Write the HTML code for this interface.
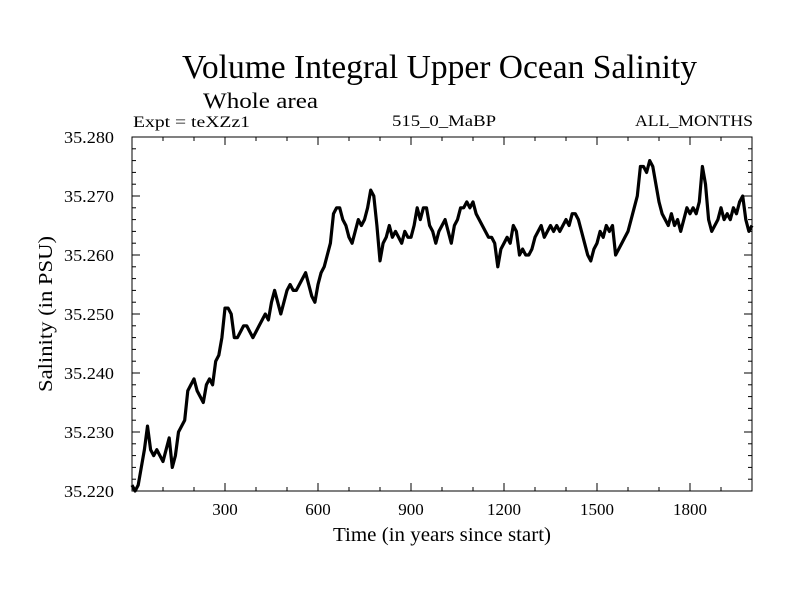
<!DOCTYPE html>
<html><head><meta charset="utf-8"><style>
html,body{margin:0;padding:0;background:#fff}
svg{display:block;font-family:"Liberation Serif",serif}
</style></head><body>
<svg id="chart" width="800" height="600" xmlns="http://www.w3.org/2000/svg">
<rect width="800" height="600" fill="#fff"/>
<text x="182" y="78" font-size="34" textLength="515" lengthAdjust="spacingAndGlyphs">Volume Integral Upper Ocean Salinity</text>
<text x="203" y="108" font-size="22" textLength="115" lengthAdjust="spacingAndGlyphs">Whole area</text>
<text x="133" y="127" font-size="16" textLength="117" lengthAdjust="spacingAndGlyphs">Expt = teXZz1</text>
<text x="392" y="126" font-size="16" textLength="104" lengthAdjust="spacingAndGlyphs">515_0_MaBP</text>
<text x="635" y="126" font-size="16" textLength="118" lengthAdjust="spacingAndGlyphs">ALL_MONTHS</text>
<text transform="translate(52,314) rotate(-90)" text-anchor="middle" font-size="20" textLength="156" lengthAdjust="spacingAndGlyphs">Salinity (in PSU)</text>
<text x="442" y="541" text-anchor="middle" font-size="20" textLength="218" lengthAdjust="spacingAndGlyphs">Time (in years since start)</text>
<g id="axes"></g>
<g id="series"></g>
<rect x="132" y="137" width="620" height="354" fill="none" stroke="#000" stroke-width="1"/>
</svg>
<script>
const xTicks=[300,600,900,1200,1500,1800];
const yTicks=[35.220,35.230,35.240,35.250,35.260,35.270,35.280];
const yTickLabels=["35.220","35.230","35.240","35.250","35.260","35.270","35.280"];
const years=[];for(let y=0;y<=2000;y+=10)years.push(y);
const salinity=[
35.221,35.220,35.221,35.224,35.227,35.231,35.227,35.226,35.227,35.226,
35.225,35.227,35.229,35.224,35.226,35.230,35.231,35.232,35.237,35.238,
35.239,35.237,35.236,35.235,35.238,35.239,35.238,35.242,35.243,35.246,
35.251,35.251,35.250,35.246,35.246,35.247,35.248,35.248,35.247,35.246,
35.247,35.248,35.249,35.250,35.249,35.252,35.254,35.252,35.250,35.252,
35.254,35.255,35.254,35.254,35.255,35.256,35.257,35.255,35.253,35.252,
35.255,35.257,35.258,35.260,35.262,35.267,35.268,35.268,35.266,35.265,
35.263,35.262,35.264,35.266,35.265,35.266,35.268,35.271,35.270,35.265,
35.259,35.262,35.263,35.265,35.263,35.264,35.263,35.262,35.264,35.263,
35.263,35.265,35.268,35.266,35.268,35.268,35.265,35.264,35.262,35.264,
35.265,35.266,35.264,35.262,35.265,35.266,35.268,35.268,35.269,35.268,
35.269,35.267,35.266,35.265,35.264,35.263,35.263,35.262,35.258,35.261,
35.262,35.263,35.262,35.265,35.264,35.260,35.261,35.260,35.260,35.261,
35.263,35.264,35.265,35.263,35.264,35.265,35.264,35.265,35.264,35.265,
35.266,35.265,35.267,35.267,35.266,35.264,35.262,35.260,35.259,35.261,
35.262,35.264,35.263,35.265,35.264,35.265,35.260,35.261,35.262,35.263,
35.264,35.266,35.268,35.270,35.275,35.275,35.274,35.276,35.275,35.272,
35.269,35.267,35.266,35.265,35.267,35.265,35.266,35.264,35.266,35.268,
35.267,35.268,35.267,35.269,35.275,35.272,35.266,35.264,35.265,35.266,
35.268,35.266,35.267,35.266,35.268,35.267,35.269,35.270,35.266,35.264,
35.265];
const L=132,R=752,T=137,B=491,X0=0,X1=2000,Y0=35.220,Y1=35.280;
const sx=v=>L+(v-X0)/(X1-X0)*(R-L);
const sy=v=>B-(v-Y0)/(Y1-Y0)*(B-T);
const NS="http://www.w3.org/2000/svg";
const axes=document.getElementById('axes');
function line(x1,y1,x2,y2,name){const l=document.createElementNS(NS,'line');
l.setAttribute('x1',x1);l.setAttribute('y1',y1);l.setAttribute('x2',x2);l.setAttribute('y2',y2);
l.setAttribute('stroke','#000');l.setAttribute('stroke-width','1');


axes.appendChild(l);}
for(let v=100;v<2000;v+=100){const x=sx(v);const len=(v%300===0)?8:4;
line(x,B,x,B-len,'x-tick');line(x,T,x,T+len,'x-tick-top');}
for(let i=0;i<=30;i++){const v=Y0+i*0.002;const y=sy(v);const len=(i%5===0)?8:4;
line(L,y,L+len,y,'y-tick');line(R,y,R-len,y,'y-tick-right');}
xTicks.forEach(v=>{const t=document.createElementNS(NS,'text');
t.setAttribute('x',sx(v));t.setAttribute('y',B+24);t.setAttribute('text-anchor','middle');t.setAttribute('font-size','17');
t.textContent=String(v);


axes.appendChild(t);});
yTicks.forEach((v,i)=>{const t=document.createElementNS(NS,'text');
t.setAttribute('x',114);t.setAttribute('y',sy(v)+6);t.setAttribute('text-anchor','end');t.setAttribute('font-size','17');
t.setAttribute('textLength','50');t.setAttribute('lengthAdjust','spacingAndGlyphs');
t.textContent=yTickLabels[i];


axes.appendChild(t);});
const p=document.createElementNS(NS,'path');
p.setAttribute('d',years.map((y,i)=>(i?'L':'M')+sx(y).toFixed(1)+' '+sy(salinity[i]).toFixed(1)).join(' '));
p.setAttribute('fill','none');p.setAttribute('stroke','#000');p.setAttribute('stroke-width','3.2');p.setAttribute('stroke-linejoin','round');


document.getElementById('series').appendChild(p);
</script>
</body></html>
